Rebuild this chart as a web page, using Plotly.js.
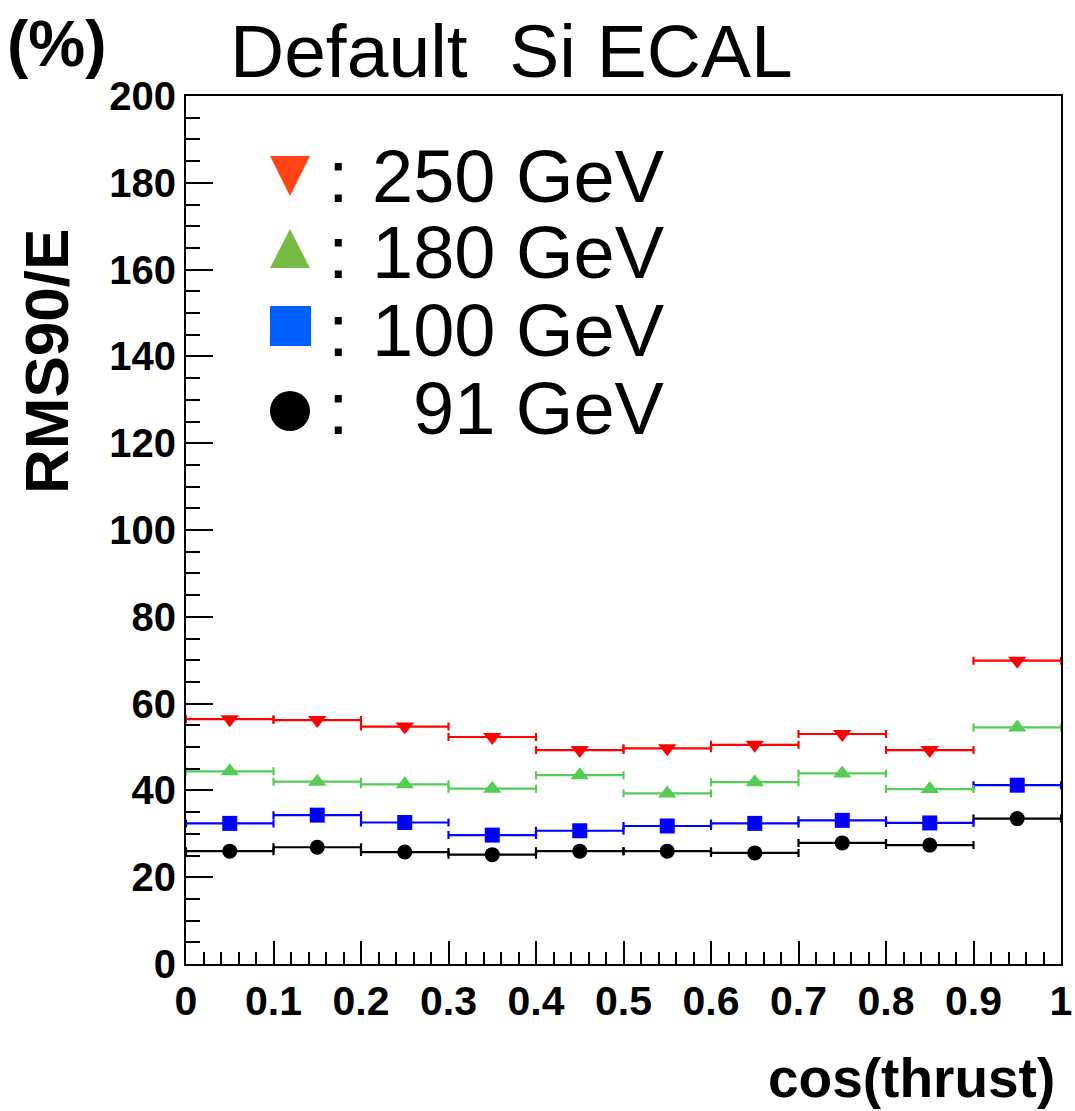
<!DOCTYPE html>
<html>
<head>
<meta charset="utf-8">
<script src="https://cdn.plot.ly/plotly-3.0.1.min.js"></script>
<style>
  html, body { margin: 0; padding: 0; background: #fff; }
  #chart { width: 1075px; height: 1111px; }
</style>
</head>
<body>
<div id="chart"></div>
<script>
// RMS90/E (%) versus cos(thrust), ten bins of width 0.1
const binCenters = [0.05, 0.15, 0.25, 0.35, 0.45, 0.55, 0.65, 0.75, 0.85, 0.95];
const binHalfWidth = 0.05;

const rms250 = [56.4, 56.2, 54.7, 52.3, 49.3, 49.7, 50.5, 53.0, 49.3, 69.9];
const rms180 = [44.4, 42.0, 41.4, 40.4, 43.5, 39.3, 41.9, 43.9, 40.3, 54.5];
const rms100 = [32.4, 34.3, 32.6, 29.7, 30.7, 31.8, 32.4, 33.1, 32.5, 41.2];
const rms91  = [26.0, 26.9, 25.8, 25.2, 26.0, 26.0, 25.6, 27.9, 27.4, 33.5];

const energyLabels = ['250 GeV', '180 GeV', '100 GeV', '91 GeV'];

const FONT = '"Liberation Sans", Arial, Helvetica, sans-serif';

function series(values, color, symbol, size) {
  return {
    type: 'scatter',
    mode: 'markers',
    x: binCenters,
    y: values,
    error_x: { type: 'constant', value: binHalfWidth, color: color, thickness: 2.2, width: 4 },
    marker: { color: color, symbol: symbol, size: size, line: { width: 0 } },
    showlegend: false,
    hoverinfo: 'x+y'
  };
}

const traces = [
  series(rms91,  '#000000', 'circle', 15),
  series(rms100, '#0000ff', 'square', 15),
  series(rms180, '#55cc55', 'triangle-up', 16),
  series(rms250, '#ff0000', 'triangle-down', 16)
];

// plot frame in page pixels, used to place the legend block
const PL = 186, PR = 1061, PT = 96, PB = 964;
const px = x => (x - PL) / (PR - PL);
const py = y => (PB - y) / (PB - PT);

const legendSymbols = [
  { path: `M${px(270)},${py(156)} L${px(310)},${py(156)} L${px(290)},${py(196)} Z`, color: '#ff4513' },
  { path: `M${px(270)},${py(268)} L${px(310)},${py(268)} L${px(290)},${py(229)} Z`, color: '#77bb44' },
  { path: `M${px(270)},${py(306)} L${px(311)},${py(306)} L${px(311)},${py(346)} L${px(270)},${py(346)} Z`, color: '#0060ff' }
];
const shapes = legendSymbols.map(s => ({
  type: 'path', xref: 'paper', yref: 'paper', path: s.path,
  fillcolor: s.color, line: { width: 0 }
}));
shapes.push({
  type: 'circle', xref: 'paper', yref: 'paper',
  x0: px(270), x1: px(310), y0: py(431), y1: py(391),
  fillcolor: '#000000', line: { width: 0 }
});

const rowCenters = [176, 253, 330, 408];
const annotations = [];
rowCenters.forEach((yc, i) => {
  annotations.push({
    xref: 'paper', yref: 'paper', x: px(338), y: py(yc),
    xanchor: 'center', yanchor: 'middle', showarrow: false,
    text: ':', font: { family: FONT, size: 74, color: '#000' }
  });
  annotations.push({
    xref: 'paper', yref: 'paper', x: px(667), y: py(yc),
    xanchor: 'right', yanchor: 'middle', showarrow: false,
    text: energyLabels[i], font: { family: FONT, size: 74, color: '#000' }
  });
});

// unit label above the y axis
annotations.push({
  xref: 'paper', yref: 'paper', x: px(57), y: py(44),
  xanchor: 'center', yanchor: 'middle', showarrow: false,
  text: '(%)', font: { family: FONT, size: 64, color: '#000', weight: 'bold' }
});
// y axis title
annotations.push({
  xref: 'paper', yref: 'paper', x: px(47), y: py(362),
  xanchor: 'center', yanchor: 'middle', showarrow: false, textangle: -90,
  text: 'RMS90/E', font: { family: FONT, size: 62, color: '#000', weight: 'bold' }
});
// x axis title
annotations.push({
  xref: 'paper', yref: 'paper', x: px(1057), y: py(1078),
  xanchor: 'right', yanchor: 'middle', showarrow: false,
  text: 'cos(thrust)', font: { family: FONT, size: 55, color: '#000', weight: 'bold' }
});

const layout = {
  width: 1075,
  height: 1111,
  paper_bgcolor: '#ffffff',
  plot_bgcolor: '#ffffff',
  margin: { l: PL, r: 1075 - PR, t: PT, b: 1111 - PB, pad: 0 },
  title: {
    text: 'Default\u00A0\u00A0Si ECAL',
    font: { family: FONT, size: 75, color: '#000' },
    xref: 'container', yref: 'container',
    x: 230 / 1075, xanchor: 'left',
    y: 1 - 51 / 1111, yanchor: 'middle'
  },
  xaxis: {
    range: [0, 1],
    dtick: 0.1, tick0: 0,
    ticks: 'inside', ticklen: 23, tickwidth: 2, tickcolor: '#000',
    minor: { dtick: 0.02, ticks: 'inside', ticklen: 12, tickwidth: 2, tickcolor: '#000', showgrid: false },
    showline: true, linecolor: '#000', linewidth: 2, mirror: true,
    showgrid: false, zeroline: false,
    tickfont: { family: FONT, size: 41, color: '#000', weight: 'bold' },
    fixedrange: true
  },
  yaxis: {
    range: [0, 200],
    dtick: 20, tick0: 0,
    ticks: 'inside', ticklen: 27, tickwidth: 2, tickcolor: '#000',
    minor: { dtick: 5, ticks: 'inside', ticklen: 14, tickwidth: 2, tickcolor: '#000', showgrid: false },
    showline: true, linecolor: '#000', linewidth: 2, mirror: true,
    showgrid: false, zeroline: false,
    tickfont: { family: FONT, size: 40, color: '#000', weight: 'bold' },
    fixedrange: true
  },
  shapes: shapes,
  annotations: annotations,
  showlegend: false
};

Plotly.newPlot('chart', traces, layout, { displayModeBar: false, staticPlot: true });
</script>
</body>
</html>
